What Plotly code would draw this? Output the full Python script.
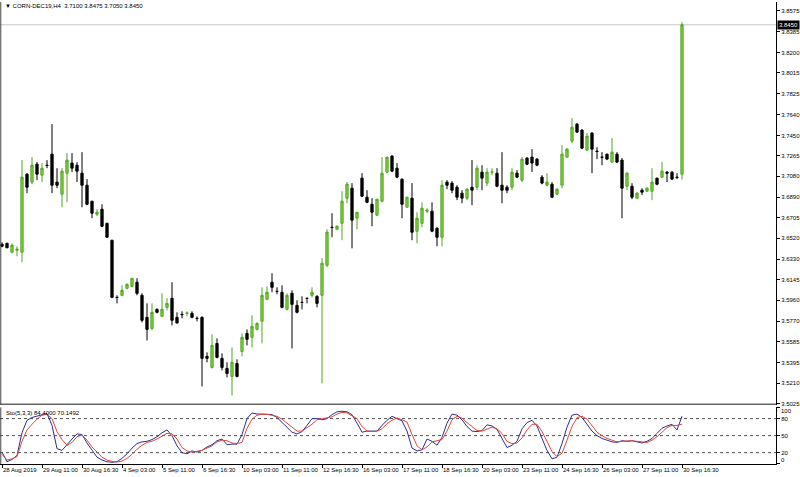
import plotly.graph_objects as go
from plotly.subplots import make_subplots

# ---------------- data ----------------
symbol = "CORN-DEC19,H4"

open_ = [3.6466, 3.6475, 3.6394, 3.6412, 3.6394, 3.7100, 3.7028, 3.7190, 3.7091, 3.7181,
         3.7281, 3.7028, 3.6919, 3.7109, 3.7200, 3.7181, 3.7109, 3.7000, 3.6856, 3.6738,
         3.6783, 3.6656, 3.6503, 3.5987, 3.6005, 3.6068, 3.6086, 3.6123, 3.6005, 3.5806,
         3.5706, 3.5878, 3.5815, 3.5896, 3.5978, 3.5806, 3.5833, 3.5842, 3.5842, 3.5797,
         3.5806, 3.5453, 3.5353, 3.5570, 3.5435, 3.5344, 3.5272, 3.5389, 3.5498, 3.5661,
         3.5625, 3.5697, 3.5770, 3.5969, 3.6123, 3.6041, 3.6032, 3.5878, 3.6023, 3.5914,
         3.5941, 3.5978, 3.6005, 3.5996, 3.6005, 3.6276, 3.6620, 3.6602, 3.6656, 3.6883,
         3.6973, 3.6702, 3.7064, 3.6892, 3.6828, 3.6729, 3.6856, 3.7118, 3.7263, 3.7154,
         3.7055, 3.6801, 3.6883, 3.6584, 3.6656, 3.6765, 3.6765, 3.6611, 3.6530, 3.7028,
         3.7019, 3.6982, 3.6928, 3.6883, 3.6982, 3.6982, 3.7118, 3.7019, 3.7118, 3.7109,
         3.7000, 3.6982, 3.6982, 3.7109, 3.7046, 3.7245, 3.7254, 3.7236, 3.7073, 3.7000,
         3.7009, 3.6919, 3.7000, 3.7254, 3.7399, 3.7552, 3.7498, 3.7317, 3.7471, 3.7308,
         3.7254, 3.7281, 3.7209, 3.7281, 3.7227, 3.6991, 3.6991, 3.6883, 3.6955, 3.6946,
         3.6946, 3.7064, 3.7073, 3.7118, 3.7118, 3.7073, 3.7100]

high = [3.6484, 3.6480, 3.6475, 3.6448, 3.7227, 3.7109, 3.7254, 3.7209, 3.7200, 3.7227,
        3.7552, 3.7154, 3.7154, 3.7290, 3.7290, 3.7209, 3.7299, 3.7055, 3.6856, 3.6783,
        3.6828, 3.6660, 3.6505, 3.6005, 3.6095, 3.6113, 3.6159, 3.6159, 3.6023, 3.5932,
        3.5932, 3.5887, 3.6023, 3.5978, 3.6123, 3.5851, 3.5860, 3.5860, 3.5860, 3.5815,
        3.5815, 3.5489, 3.5652, 3.5616, 3.5480, 3.5399, 3.5534, 3.5426, 3.5661, 3.5697,
        3.5824, 3.5760, 3.6077, 3.6086, 3.6204, 3.6077, 3.6095, 3.6023, 3.6050, 3.5960,
        3.5996, 3.5982, 3.6077, 3.6005, 3.6340, 3.6602, 3.6747, 3.6638, 3.6946, 3.7028,
        3.7019, 3.6756, 3.7109, 3.6955, 3.6883, 3.6874, 3.7254, 3.7254, 3.7272, 3.7200,
        3.7060, 3.6892, 3.7019, 3.6756, 3.6846, 3.6792, 3.6846, 3.6620, 3.7046, 3.7046,
        3.7037, 3.7000, 3.6955, 3.6973, 3.7227, 3.7181, 3.7181, 3.7154, 3.7154, 3.7154,
        3.7299, 3.7000, 3.7154, 3.7136, 3.7254, 3.7254, 3.7326, 3.7245, 3.7091, 3.7109,
        3.7028, 3.6973, 3.7362, 3.7335, 3.7607, 3.7561, 3.7507, 3.7471, 3.7480, 3.7344,
        3.7299, 3.7285, 3.7426, 3.7299, 3.7245, 3.7118, 3.7019, 3.6937, 3.6973, 3.6982,
        3.7154, 3.7068, 3.7209, 3.7127, 3.7127, 3.7109, 3.8475]

low = [3.6439, 3.6430, 3.6385, 3.6358, 3.6304, 3.6928, 3.7009, 3.7046, 3.7028, 3.7154,
       3.6928, 3.6973, 3.6801, 3.6846, 3.7118, 3.7028, 3.6801, 3.6819, 3.6702, 3.6720,
       3.6620, 3.6525, 3.5978, 3.5932, 3.5996, 3.6059, 3.6077, 3.6005, 3.5760, 3.5597,
       3.5688, 3.5842, 3.5806, 3.5869, 3.5733, 3.5751, 3.5797, 3.5815, 3.5797, 3.5770,
       3.5181, 3.5399, 3.5344, 3.5435, 3.5326, 3.5263, 3.5100, 3.5263, 3.5453, 3.5552,
       3.5534, 3.5688, 3.5570, 3.5960, 3.6032, 3.6014, 3.5887, 3.5869, 3.5525, 3.5842,
       3.5878, 3.5932, 3.5987, 3.5896, 3.5209, 3.6258, 3.6530, 3.6593, 3.6503, 3.6837,
       3.6430, 3.6602, 3.6892, 3.6837, 3.6629, 3.6720, 3.6846, 3.7109, 3.7118, 3.7064,
       3.6702, 3.6795, 3.6503, 3.6475, 3.6620, 3.6747, 3.6575, 3.6448, 3.6448, 3.6964,
       3.6928, 3.6865, 3.6837, 3.6865, 3.6819, 3.6955, 3.6955, 3.6991, 3.7091, 3.6982,
       3.6837, 3.6928, 3.6955, 3.7064, 3.7028, 3.7181, 3.7118, 3.7172, 3.7009, 3.6991,
       3.6883, 3.6910, 3.6973, 3.7245, 3.7380, 3.7471, 3.7326, 3.7308, 3.7109, 3.7236,
       3.7181, 3.7227, 3.7200, 3.7200, 3.6702, 3.6955, 3.6874, 3.6874, 3.6910, 3.6937,
       3.6865, 3.7000, 3.7064, 3.7028, 3.7046, 3.7055, 3.7050]

close = [3.6448, 3.6435, 3.6457, 3.6421, 3.7073, 3.6982, 3.7181, 3.7100, 3.7154, 3.7178,
         3.7000, 3.7000, 3.7127, 3.7227, 3.7154, 3.7127, 3.7000, 3.6828, 3.6747, 3.6756,
         3.6629, 3.6530, 3.5987, 3.5985, 3.6050, 3.6104, 3.6159, 3.6023, 3.5779, 3.5697,
         3.5851, 3.5851, 3.5878, 3.5932, 3.5779, 3.5755, 3.5830, 3.5845, 3.5806, 3.5795,
         3.5435, 3.5435, 3.5552, 3.5444, 3.5353, 3.5299, 3.5399, 3.5272, 3.5625, 3.5607,
         3.5724, 3.5751, 3.6005, 3.6032, 3.6077, 3.6040, 3.5896, 3.6005, 3.5923, 3.5851,
         3.5940, 3.5977, 3.6032, 3.5932, 3.6295, 3.6575, 3.6618, 3.6629, 3.6856, 3.7009,
         3.6684, 3.6756, 3.6901, 3.6846, 3.6756, 3.6874, 3.7109, 3.7254, 3.7127, 3.7073,
         3.6828, 3.6892, 3.6575, 3.6702, 3.6792, 3.6774, 3.6584, 3.6530, 3.7000, 3.7000,
         3.6955, 3.6892, 3.6883, 3.6964, 3.6955, 3.7154, 3.7064, 3.7118, 3.7120, 3.6991,
         3.6955, 3.6955, 3.7118, 3.7073, 3.7236, 3.7190, 3.7200, 3.7181, 3.7019, 3.7028,
         3.6892, 3.6964, 3.7281, 3.7326, 3.7525, 3.7480, 3.7335, 3.7444, 3.7326, 3.7305,
         3.7252, 3.7236, 3.7299, 3.7209, 3.6973, 3.7109, 3.6892, 3.6928, 3.6937, 3.6973,
         3.7028, 3.7009, 3.7127, 3.7109, 3.7055, 3.7070, 3.8450]

sto_main = [21, 4, 8, 15, 55, 77, 82, 84, 87, 89,
            68, 27, 24, 35, 44, 53, 52, 37, 24, 12,
            7, 4, 3, 4, 10, 18, 28, 36, 39, 40,
            43, 48, 55, 60, 50, 32, 20, 18, 23, 21,
            24, 30, 34, 41, 44, 34, 35, 35, 52, 80,
            90, 88, 88, 88, 87, 82, 73, 64, 56, 53,
            57, 68, 80, 80, 78, 80, 87, 92, 93, 92,
            87, 72, 56, 58, 58, 58, 68, 77, 84, 80,
            76, 58, 28, 23, 25, 44, 40, 33, 47, 72,
            88, 86, 78, 66, 58, 57, 59, 69, 67, 61,
            45, 29, 33, 40, 62, 73, 77, 67, 45, 24,
            9, 12, 36, 65, 86, 88, 82, 70, 58, 50,
            45, 42, 39, 38, 41, 40, 41, 39, 37, 40,
            45, 54, 63, 67, 70, 60, 84.4]

sto_signal = [17, 7, 9, 13, 40, 60, 70, 79, 86, 87.5,
              80, 57, 43, 33, 38, 48, 51, 42, 30, 21,
              12, 7, 4.5, 3.4, 5, 10, 17, 26, 33, 38,
              40, 44, 49, 54, 53, 44, 29, 23, 21, 22.8,
              24, 28, 32, 39, 42, 41, 37, 36, 38, 63,
              79, 86, 87.5, 87.5, 86, 84, 79, 72, 64, 58,
              58, 64, 70, 78, 80, 81, 83, 88, 91, 90,
              85, 80, 66, 58, 57, 58, 62, 71, 77, 81,
              78, 74, 52, 32, 25, 30, 39, 41, 43, 58,
              78, 84, 81, 73, 66, 59, 58, 61, 65, 62,
              54, 40, 35.8, 37, 46, 60, 70, 70, 57, 40,
              22, 13, 19, 42, 66, 82, 84, 79, 68, 56,
              50, 45, 42, 39, 40, 41, 41, 40, 39, 38,
              42, 48, 56, 64, 68, 68, 70.1492]

time_labels = ["28 Aug 2019", "29 Aug 11:00", "30 Aug 16:30", "4 Sep 03:00", "5 Sep 11:00",
               "6 Sep 16:30", "10 Sep 03:00", "11 Sep 11:00", "12 Sep 16:30", "16 Sep 03:00",
               "17 Sep 11:00", "18 Sep 16:30", "20 Sep 03:00", "23 Sep 11:00", "24 Sep 16:30",
               "26 Sep 03:00", "27 Sep 11:00", "30 Sep 16:30"]
bars_per_label = 8

price_ticks = [3.8575, 3.8385, 3.8200, 3.8015, 3.7825, 3.7640, 3.7450, 3.7265, 3.7080, 3.6890,
               3.6705, 3.6520, 3.6330, 3.6145, 3.5960, 3.5770, 3.5585, 3.5395, 3.5210, 3.5025]
sto_levels = [20, 50, 80]

# ---------------- figure ----------------
n = len(open_)
bars = list(range(n))
tick_bars = [i * bars_per_label for i in range(len(time_labels))]

FONT = "Liberation Sans"
FS = 6
PRICE_RANGE = [3.5014, 3.8656]

fig = make_subplots(rows=2, cols=1, shared_xaxes=True, vertical_spacing=0.005,
                    row_heights=[0.8712, 0.1227])
fig.add_trace(go.Candlestick(
    x=bars, open=open_, high=high, low=low, close=close,
    increasing=dict(line=dict(color="#52a524", width=1), fillcolor="#80d23c"),
    decreasing=dict(line=dict(color="#000000", width=1), fillcolor="#000000"),
    whiskerwidth=0, hoverinfo="skip", showlegend=False), row=1, col=1)
fig.add_trace(go.Scatter(x=bars, y=sto_main, mode="lines",
                         line=dict(color="#2f2f8c", width=1),
                         showlegend=False, hoverinfo="skip"), row=2, col=1)
fig.add_trace(go.Scatter(x=bars, y=sto_signal, mode="lines",
                         line=dict(color="#e0463c", width=1),
                         showlegend=False, hoverinfo="skip"), row=2, col=1)

# bid line
fig.add_shape(type="line", xref="paper", x0=0, x1=1, yref="y", y0=close[-1], y1=close[-1],
              line=dict(color="#c8c8c8", width=1), layer="below")
# stochastic levels
for lv in sto_levels:
    fig.add_shape(type="line", xref="paper", x0=0, x1=1, yref="y2", y0=lv, y1=lv,
                  line=dict(color="#505050", width=1, dash="3px,3px"), layer="below")
# pane separator at the bottom of the price pane
fig.add_shape(type="line", xref="paper", x0=0, x1=1, yref="y", y0=PRICE_RANGE[0], y1=PRICE_RANGE[0],
              line=dict(color="#666666", width=3))
# left borders
fig.add_shape(type="line", xref="paper", x0=0.001, x1=0.001, yref="y",
              y0=PRICE_RANGE[0], y1=PRICE_RANGE[1], line=dict(color="#444444", width=1))
fig.add_shape(type="line", xref="paper", x0=0.001, x1=0.001, yref="y2", y0=0, y1=100,
              line=dict(color="#444444", width=1))

fig.add_annotation(xref="paper", yref="y", x=0.004, y=3.8620, xanchor="left", yanchor="middle",
                   text="▼ %s  %.4f %.4f %.4f %.4f" % (symbol, open_[-1], high[-1], low[-1], close[-1]),
                   showarrow=False, font=dict(family=FONT, size=FS, color="#000000"))
fig.add_annotation(xref="paper", yref="y2", x=0.005, y=89, xanchor="left", yanchor="middle",
                   text="Sto(5,3,3) %.4f %.4f" % (sto_main[-1], sto_signal[-1]),
                   showarrow=False, font=dict(family=FONT, size=FS, color="#000000"))
fig.add_annotation(xref="paper", yref="y", x=1, y=close[-1], xanchor="left", yanchor="middle", xshift=1,
                   text="%.4f" % close[-1], showarrow=False, bgcolor="#000000", borderpad=1,
                   font=dict(family=FONT, size=FS, color="#ffffff"))
fig.add_annotation(xref="paper", yref="y2", x=1, y=92.8, xanchor="left", yanchor="middle", xshift=3,
                   text="100", showarrow=False, font=dict(family=FONT, size=FS, color="#000000"))
fig.add_annotation(xref="paper", yref="y2", x=1, y=6.3, xanchor="left", yanchor="middle", xshift=3,
                   text="0", showarrow=False, font=dict(family=FONT, size=FS, color="#000000"))

fig.update_layout(
    width=800, height=477,
    margin=dict(l=0, r=24, t=2, b=13, autoexpand=False),
    paper_bgcolor="#ffffff", plot_bgcolor="#ffffff",
    font=dict(family=FONT, size=FS, color="#000000"),
    showlegend=False, hovermode=False,
    boxgap=0.35,
)
fig.update_xaxes(range=[-0.4, 154.8], showgrid=False, zeroline=False, automargin=False)
fig.update_xaxes(row=1, col=1, showticklabels=False, ticks="", showline=False,
                 rangeslider=dict(visible=False))
fig.update_xaxes(row=2, col=1, tickmode="array", tickvals=tick_bars, ticktext=time_labels,
                 tickangle=0, ticks="outside", ticklen=3, tickcolor="#000000",
                 ticklabelposition="outside right",
                 tickfont=dict(family=FONT, size=FS, color="#000000"),
                 showline=True, linecolor="#000000", linewidth=1)
fig.update_yaxes(row=1, col=1, range=PRICE_RANGE, side="right", automargin=False,
                 tickmode="array", tickvals=price_ticks, ticktext=["%.4f" % v for v in price_ticks],
                 ticks="outside", ticklen=3, tickcolor="#000000",
                 tickfont=dict(family=FONT, size=FS, color="#000000"),
                 showgrid=False, zeroline=False, showline=True, linecolor="#000000", linewidth=1)
fig.update_yaxes(row=2, col=1, range=[0, 100], side="right", automargin=False,
                 tickmode="array", tickvals=[0] + sto_levels + [100],
                 ticktext=[""] + [str(v) for v in sto_levels] + [""],
                 ticks="outside", ticklen=3, tickcolor="#000000",
                 tickfont=dict(family=FONT, size=FS, color="#000000"),
                 showgrid=False, zeroline=False, showline=True, linecolor="#000000", linewidth=1)

fig.write_html("out.html", config={"displayModeBar": False},
               post_script="document.body.style.margin='0px';")
